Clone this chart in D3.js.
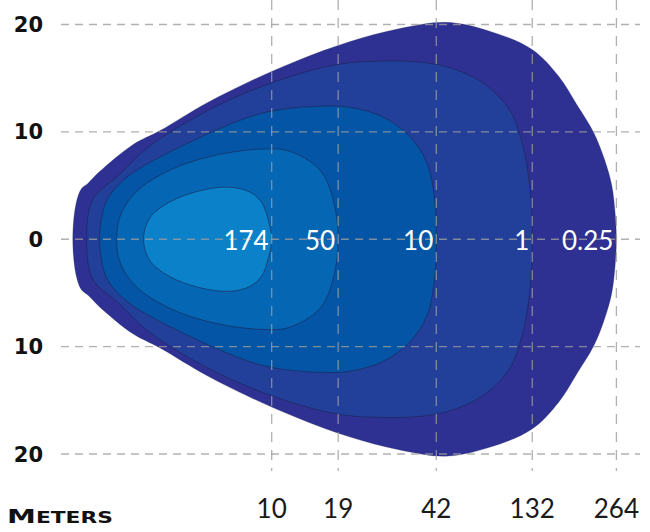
<!DOCTYPE html>
<html>
<head>
<meta charset="utf-8">
<script src="https://cdn.jsdelivr.net/npm/d3@7"></script>
<style>
  body { margin: 0; background: #fff; }
  svg { display: block; }
</style>
</head>
<body>
<div id="chart"></div>
<script>
// lux levels, outer to inner, and throw distances (meters) for the x ticks
const luxLevels = ["0.25", "1", "10", "50", "174"];
const meterLabels = ["264", "132", "42", "19", "10"];
const fillColors = ["#2e3192", "#223f99", "#0455a5", "#0567b3", "#0a81c9"];
const lateralTicks = [20, 10, 0, -10, -20];

// upper half of every isolux line, [forward, lateral]
const contour025 = [[0.1,0],[0.4,3.3],[0.9,4.7],[1.5,5.2],[2.6,6.3],[5.7,8.8],[8.2,10.1],[12.6,12.7],[16.6,14.7],[21.2,16.7],[25.9,18.4],[30.5,19.6],[34.9,20.2],[38.9,19.4],[42.9,17.7],[45.4,15.2],[47.1,12.55],[48.7,9.9],[49.7,7.4],[50.35,5.1],[50.65,2.8],[50.8,0]];
const contour1 = [[1.4,0],[1.5,2.1],[1.95,3.7],[2.6,4.5],[4.2,5.8],[7.3,8.7],[13.5,12.4],[19.6,14.9],[24.9,16.3],[29,16.6],[32.4,16.5],[35.2,16],[38.3,14.6],[40.8,12.1],[42,9],[42.6,5.9],[42.9,2.5],[42.95,0]];
const contour10 = [[2.6,0],[2.8,2.1],[3.3,3.7],[4.2,4.9],[5.7,6.2],[10.3,8.7],[16.6,11.4],[19.6,12.1],[23.4,12.4],[25.9,12.3],[29,11.4],[31.5,9.6],[33.1,7.2],[33.85,3.7],[34.0,0]];
const contour50 = [[4.2,0],[4.5,2.1],[6,4.4],[9.3,6.5],[13.3,7.8],[17.8,8.4],[20.3,8.2],[23.1,6.5],[24.3,4],[24.85,0]];
const contour174 = [[6.7,0],[7.3,2],[9.1,3.45],[11.9,4.5],[14.7,4.85],[16.6,4.4],[17.7,3.45],[18.3,1.9],[18.65,0]];
const contours = [contour025, contour1, contour10, contour50, contour174];

const width = 650, height = 532;

const svg = d3.select("#chart").append("svg")
  .attr("width", width)
  .attr("height", height);

const x = d3.scaleLinear().domain([-1, 53]).range([61, 640]);
const y = d3.scaleLinear().domain([-20, 20]).range([454, 24.5]);

// mirror the upper half to get a closed outline
const closed = half => half.concat(half.slice(1, -1).reverse().map(p => [p[0], -p[1]]));

const line = d3.line()
  .x(d => x(d[0]))
  .y(d => y(d[1]))
  .curve(d3.curveCatmullRomClosed.alpha(0.5));

svg.append("g")
  .selectAll("path")
  .data(contours)
  .enter()
  .append("path")
    .attr("d", d => line(closed(d)))
    .attr("fill", (d, i) => fillColors[i])
    .attr("stroke", "#1c2350")
    .attr("stroke-opacity", (d, i) => i == 0 ? 0.3 : 0.75)
    .attr("stroke-width", 0.8);

// tick positions sit at the far end of each contour
const tickPos = contours.map(c => d3.max(c, p => p[0]));

const grid = svg.append("g")
  .attr("stroke", "#9c9c9c")
  .attr("stroke-opacity", 0.8)
  .attr("stroke-width", 1.3);

grid.selectAll(".hgrid")
  .data(lateralTicks)
  .enter()
  .append("line")
    .attr("x1", x.range()[0])
    .attr("x2", x.range()[1])
    .attr("y1", d => y(d))
    .attr("y2", d => y(d))
    .attr("stroke-dasharray", "8,6");

grid.selectAll(".vgrid")
  .data(tickPos)
  .enter()
  .append("line")
    .attr("x1", d => x(d))
    .attr("x2", d => x(d))
    .attr("y1", 0)
    .attr("y2", 471)
    .attr("stroke-dasharray", "10,8");

// lateral labels (no sign, both sides read as meters off axis)
svg.append("g")
  .selectAll("text")
  .data(lateralTicks)
  .enter()
  .append("text")
    .attr("x", 43)
    .attr("y", d => y(d) + 7.5)
    .attr("text-anchor", "end")
    .attr("font-family", "DejaVu Sans, sans-serif")
    .attr("font-weight", "bold")
    .attr("font-size", "21px")
    .attr("fill", "#111")
    .text(d => Math.abs(d));

// throw distance labels
svg.append("g")
  .selectAll("text")
  .data(tickPos)
  .enter()
  .append("text")
    .attr("x", d => x(d))
    .attr("y", 518)
    .attr("text-anchor", "middle")
    .attr("font-family", "Lato, sans-serif")
    .attr("font-size", "26px")
    .attr("fill", "#1a1a1a")
    .text((d, i) => meterLabels[i]);

// lux values inside the contours
svg.append("g")
  .selectAll("text")
  .data(tickPos)
  .enter()
  .append("text")
    .attr("x", d => x(d) - 3)
    .attr("y", y(0) + 10.5)
    .attr("text-anchor", "end")
    .attr("font-family", "Lato, sans-serif")
    .attr("font-size", "26px")
    .attr("fill", "#fff")
    .text((d, i) => luxLevels[i]);

const meters = svg.append("text")
  .attr("x", 7)
  .attr("y", 523)
  .attr("font-family", "DejaVu Sans, sans-serif")
  .attr("font-weight", "bold")
  .attr("fill", "#111")
  .attr("textLength", 106)
  .attr("lengthAdjust", "spacingAndGlyphs");
meters.append("tspan").attr("font-size", "20px").text("M");
meters.append("tspan").attr("font-size", "15px").text("ETERS");
</script>
</body>
</html>
